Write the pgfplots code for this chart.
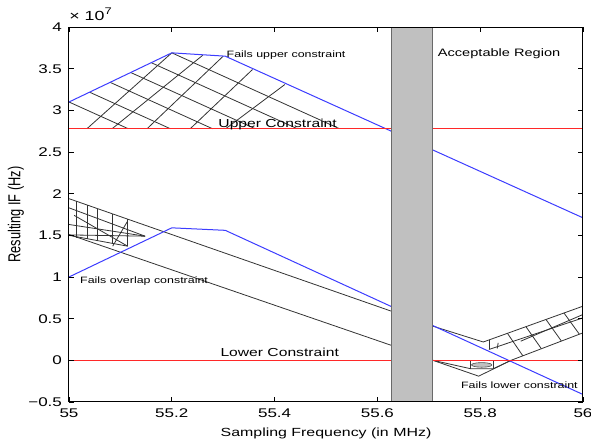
\documentclass[border=0pt]{standalone}
\usepackage{fontspec}
\setmainfont{Liberation Sans}[FakeStretch=1.35]
\newfontfamily\plainsans{Liberation Sans}
\usepackage{pgfplots}
\pgfplotsset{compat=1.18}
\definecolor{ifBlue}{RGB}{60,60,255}
\definecolor{ifRed}{RGB}{255,40,40}
\definecolor{barFill}{RGB}{192,192,192}
\definecolor{barEdge}{RGB}{105,105,105}
\newcommand{\fs}[1]{\fontsize{#1}{#1}\selectfont}

\begin{document}
\begin{tikzpicture}
\begin{axis}[
    width=257pt, height=187.5pt, scale only axis,
    xmin=55, xmax=56, ymin=-0.5, ymax=4,
    xtick={55,55.2,55.4,55.6,55.8,56},
    xticklabels={55,55.2,55.4,55.6,55.8,56},
    ytick={-0.5,0,0.5,1,1.5,2,2.5,3,3.5,4},
    yticklabels={−0.5,0,0.5,1,1.5,2,2.5,3,3.5,4},
    ticklabel style={font=\fs{6.3}},
    major tick length=2.5pt,
    tick style={black, line width=0.4pt},
    axis line style={black, line width=0.5pt},
    axis on top,
    xlabel={Sampling Frequency (in MHz)},
    xlabel style={font=\fs{5.9}, at={(axis description cs:0.5,0)}, anchor=base, yshift=-17.5pt},
    ylabel={\scalebox{1}[1.35]{\plainsans\fs{6.4}Resulting IF (Hz)}},
    ylabel style={at={(axis description cs:0,0.5)}, anchor=center, yshift=26.5pt},
    clip mode=individual,
]
  % upper mesh: shallow lines
  \addplot[black!80, line width=0.4pt] coordinates {(55,3.10) (55.115,2.78)};
  \addplot[black!80, line width=0.4pt] coordinates {(55.04,3.218) (55.197,2.78)};
  \addplot[black!80, line width=0.4pt] coordinates {(55.08,3.336) (55.279,2.78)};
  \addplot[black!80, line width=0.4pt] coordinates {(55.12,3.454) (55.362,2.78)};
  \addplot[black!80, line width=0.4pt] coordinates {(55.16,3.572) (55.444,2.78)};
  \addplot[black!80, line width=0.4pt] coordinates {(55.2,3.69) (55.526,2.78)};
  % upper mesh: steep lines
  \addplot[black!80, line width=0.4pt] coordinates {(55.035,2.78) (55.2,3.69)};
  \addplot[black!80, line width=0.4pt] coordinates {(55.084,2.78) (55.26,3.66)};
  \addplot[black!80, line width=0.4pt] coordinates {(55.152,2.78) (55.30,3.65)};
  \addplot[black!80, line width=0.4pt] coordinates {(55.236,2.78) (55.357,3.49)};
  \addplot[black!80, line width=0.4pt] coordinates {(55.305,2.78) (55.42,3.31)};

  % overlap region
  \addplot[black!80, line width=0.4pt] coordinates {(55,1.94) (55.627,0.59)};
  \addplot[black!80, line width=0.4pt] coordinates {(55,1.51) (55.627,0.18)};
  \addplot[black!80, line width=0.4pt] coordinates {(55,1.83) (55.148,1.49)};
  \addplot[black!80, line width=0.4pt] coordinates {(55,1.63) (55.148,1.49)};
  \addplot[black!80, line width=0.4pt] coordinates {(55,1.505) (55.148,1.49)};
  \addplot[black!80, line width=0.4pt] coordinates {(55.01,1.74) (55.114,1.37)};
  \addplot[black!80, line width=0.4pt] coordinates {(55,1.50) (55.114,1.37)};
  \addplot[black!80, line width=0.4pt] coordinates {(55.0136,1.47) (55.0136,1.91)};
  \addplot[black!80, line width=0.4pt] coordinates {(55.036,1.46) (55.036,1.86)};
  \addplot[black!80, line width=0.4pt] coordinates {(55.056,1.44) (55.056,1.82)};
  \addplot[black!80, line width=0.4pt] coordinates {(55.085,1.40) (55.085,1.76)};
  \addplot[black!80, line width=0.4pt] coordinates {(55.114,1.37) (55.114,1.70)};
  \addplot[black!80, line width=0.4pt] coordinates {(55.085,1.37) (55.114,1.67)};

  % right mesh
  \addplot[black!80, line width=0.4pt] coordinates {(55.708,0.41) (55.806,0.22) (56,0.65)};
  \addplot[black!80, line width=0.4pt] coordinates {(55.817,0.13) (56,0.51)};
  \addplot[black!80, line width=0.4pt] coordinates {(55.879,0.23) (56,0.55)};
  \addplot[black!80, line width=0.4pt] coordinates {(55.86,0.0) (56,0.33)};
  \addplot[black!80, line width=0.4pt] coordinates {(55.853,0.324) (55.883,0.054)};
  \addplot[black!80, line width=0.4pt] coordinates {(55.889,0.404) (55.919,0.139)};
  \addplot[black!80, line width=0.4pt] coordinates {(55.928,0.490) (55.958,0.231)};
  \addplot[black!80, line width=0.4pt] coordinates {(55.963,0.568) (55.993,0.313)};
  \addplot[black!80, line width=0.4pt] coordinates {(55.817,0.24) (55.817,0.13)};
  \addplot[black!80, line width=0.4pt] coordinates {(55.835,0.21) (55.833,0.14)};
  % lower loop
  \addplot[black!80, line width=0.4pt] coordinates {(55.708,0.0) (55.797,-0.19) (55.86,0.0)};
  \addplot[black!80, line width=0.4pt] coordinates {(55.708,0.0) (55.781,-0.10) (55.826,-0.10) (55.86,0.0)};
  \addplot[black!80, line width=0.4pt] coordinates {(55.781,-0.01) (55.781,-0.10)};
  \addplot[black!80, line width=0.4pt] coordinates {(55.826,-0.01) (55.826,-0.10)};
  \addplot[fill=barFill, draw=black!70, line width=0.3pt] coordinates {
    (55.823,-0.055) (55.8203,-0.041) (55.813,-0.0308) (55.803,-0.027)
    (55.793,-0.0308) (55.7857,-0.041) (55.783,-0.055) (55.7857,-0.069)
    (55.793,-0.0792) (55.803,-0.083) (55.813,-0.0792) (55.8203,-0.069)
    (55.823,-0.055)};

  % blue bounds
  \addplot[ifBlue, line width=0.5pt] coordinates {(55,3.10) (55.2,3.69) (55.304,3.65) (56,1.71)};
  \addplot[ifBlue, line width=0.5pt] coordinates {(55,1.00) (55.2,1.59) (55.304,1.56) (56,-0.41)};

  % constraints
  \addplot[ifRed, line width=0.75pt] coordinates {(55,2.78) (56,2.78)};
  \addplot[ifRed, line width=0.75pt] coordinates {(55,0) (56,0)};

  % acceptable region
  \addplot[fill=barFill, draw=barEdge, line width=0.5pt] coordinates {
    (55.627,-0.5) (55.708,-0.5) (55.708,4) (55.627,4) (55.627,-0.5)};

  \node[anchor=base west, font=\fs{4.6}, inner sep=0pt] at (axis cs:55.306,3.64) {Fails upper constraint};
  \node[anchor=base west, font=\fs{5.8}, inner sep=0pt] at (axis cs:55.29,2.80) {Upper Constraint};
  \node[anchor=base west, font=\fs{5.4}, inner sep=0pt] at (axis cs:55.717,3.65) {Acceptable Region};
  \node[anchor=base west, font=\fs{4.6}, inner sep=0pt] at (axis cs:55.021,0.92) {Fails overlap constraint};
  \node[anchor=base west, font=\fs{5.8}, inner sep=0pt] at (axis cs:55.294,0.05) {Lower Constraint};
  \node[anchor=base west, font=\fs{4.6}, inner sep=0pt] at (axis cs:55.762,-0.335) {Fails lower constraint};
\end{axis}
\node[anchor=base west, font=\fs{6.6}, inner sep=0pt] at ([yshift=3.5pt]current axis.north west) {× 10\raisebox{0.45em}{\fs{4.8}7}};
\pgfresetboundingbox
\path ([xshift=-34.5pt,yshift=-21pt]current axis.south west) rectangle ([xshift=4pt,yshift=13.5pt]current axis.north east);
\end{tikzpicture}
\end{document}
